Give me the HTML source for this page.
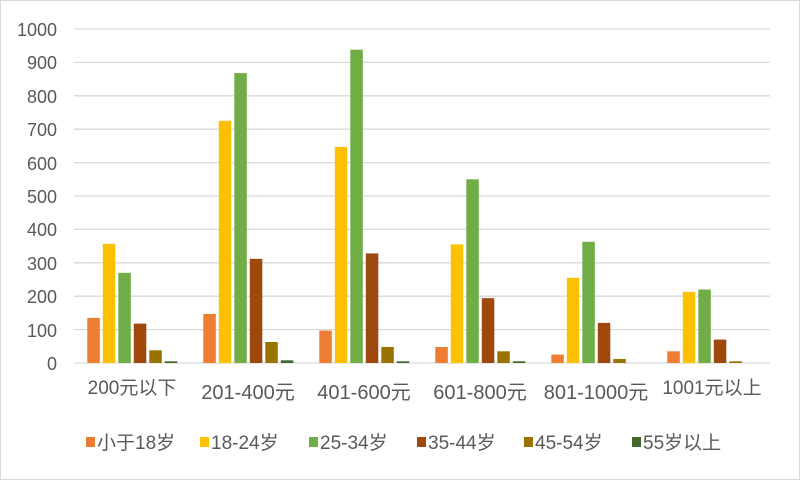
<!DOCTYPE html>
<html><head><meta charset="utf-8"><style>
html,body{margin:0;padding:0;background:#fff}
svg{display:block}
text{font-family:"Liberation Sans","Noto Sans CJK SC",sans-serif;fill:#595959}
</style></head><body>
<svg width="800" height="480" viewBox="0 0 800 480" xmlns="http://www.w3.org/2000/svg">
<rect x="0.5" y="0.5" width="799" height="479" fill="#fff" stroke="#d9d9d9"/>
<g stroke="#d9d9d9" stroke-width="1.3">
<line x1="74" x2="770" y1="29" y2="29"/><line x1="74" x2="770" y1="62.4" y2="62.4"/>
<line x1="74" x2="770" y1="95.8" y2="95.8"/><line x1="74" x2="770" y1="129.2" y2="129.2"/>
<line x1="74" x2="770" y1="162.6" y2="162.6"/><line x1="74" x2="770" y1="196" y2="196"/>
<line x1="74" x2="770" y1="229.4" y2="229.4"/><line x1="74" x2="770" y1="262.8" y2="262.8"/>
<line x1="74" x2="770" y1="296.2" y2="296.2"/><line x1="74" x2="770" y1="329.6" y2="329.6"/>
<line x1="74" x2="770" y1="363" y2="363"/>
</g>
<g font-size="18" text-anchor="end">
<text x="57" y="36">1000</text><text x="57" y="69">900</text><text x="57" y="103">800</text>
<text x="57" y="136">700</text><text x="57" y="170">600</text><text x="57" y="203">500</text>
<text x="57" y="236">400</text><text x="57" y="270">300</text><text x="57" y="303">200</text>
<text x="57" y="337">100</text><text x="57" y="370">0</text>
</g>
<g>
<rect x="87.3" y="317.9" width="12.5" height="45.1" fill="#ED7D31"/>
<rect x="102.8" y="243.8" width="12.5" height="119.2" fill="#FFC000"/>
<rect x="118.3" y="272.8" width="12.5" height="90.2" fill="#70AD47"/>
<rect x="133.8" y="323.6" width="12.5" height="39.4" fill="#9E480E"/>
<rect x="149.3" y="350.3" width="12.5" height="12.7" fill="#997300"/>
<rect x="164.8" y="361.3" width="12.5" height="1.7" fill="#43682B"/>

<rect x="203.3" y="313.9" width="12.5" height="49.1" fill="#ED7D31"/>
<rect x="218.8" y="120.8" width="12.5" height="242.2" fill="#FFC000"/>
<rect x="234.3" y="73.1" width="12.5" height="289.9" fill="#70AD47"/>
<rect x="249.8" y="258.8" width="12.5" height="104.2" fill="#9E480E"/>
<rect x="265.3" y="342" width="12.5" height="21" fill="#997300"/>
<rect x="280.8" y="360.3" width="12.5" height="2.7" fill="#43682B"/>

<rect x="319.3" y="330.6" width="12.5" height="32.4" fill="#ED7D31"/>
<rect x="334.8" y="146.9" width="12.5" height="216.1" fill="#FFC000"/>
<rect x="350.3" y="49.7" width="12.5" height="313.3" fill="#70AD47"/>
<rect x="365.8" y="253.4" width="12.5" height="109.6" fill="#9E480E"/>
<rect x="381.3" y="347" width="12.5" height="16" fill="#997300"/>
<rect x="396.8" y="361.3" width="12.5" height="1.7" fill="#43682B"/>

<rect x="435.3" y="347" width="12.5" height="16" fill="#ED7D31"/>
<rect x="450.8" y="244.4" width="12.5" height="118.6" fill="#FFC000"/>
<rect x="466.3" y="179.3" width="12.5" height="183.7" fill="#70AD47"/>
<rect x="481.8" y="298.2" width="12.5" height="64.8" fill="#9E480E"/>
<rect x="497.3" y="351.3" width="12.5" height="11.7" fill="#997300"/>
<rect x="512.8" y="361.3" width="12.5" height="1.7" fill="#43682B"/>

<rect x="551.3" y="354.6" width="12.5" height="8.4" fill="#ED7D31"/>
<rect x="566.8" y="277.8" width="12.5" height="85.2" fill="#FFC000"/>
<rect x="582.3" y="241.8" width="12.5" height="121.2" fill="#70AD47"/>
<rect x="597.8" y="322.9" width="12.5" height="40.1" fill="#9E480E"/>
<rect x="613.3" y="359" width="12.5" height="4" fill="#997300"/>

<rect x="667.3" y="351.3" width="12.5" height="11.7" fill="#ED7D31"/>
<rect x="682.8" y="291.9" width="12.5" height="71.1" fill="#FFC000"/>
<rect x="698.3" y="289.5" width="12.5" height="73.5" fill="#70AD47"/>
<rect x="713.8" y="339.6" width="12.5" height="23.4" fill="#9E480E"/>
<rect x="729.3" y="361.3" width="12.5" height="1.7" fill="#997300"/>
</g>
<g text-anchor="middle">
<text x="132" y="394" font-size="19">200元以下</text>
<text x="248" y="399" font-size="20" fill="#404040">201-400元</text>
<text x="364" y="399" font-size="20" fill="#404040">401-600元</text>
<text x="480" y="399" font-size="20" fill="#404040">601-800元</text>
<text x="596" y="399" font-size="20" fill="#404040">801-1000元</text>
<text x="712" y="394" font-size="19">1001元以上</text>
</g>
<g font-size="19">
<rect x="86" y="437" width="9" height="10" fill="#ED7D31"/><text x="97" y="449">小于18岁</text>
<rect x="200" y="437" width="9" height="10" fill="#FFC000"/><text x="211" y="449">18-24岁</text>
<rect x="309" y="437" width="9" height="10" fill="#70AD47"/><text x="320" y="449">25-34岁</text>
<rect x="417" y="437" width="9" height="10" fill="#9E480E"/><text x="428" y="449">35-44岁</text>
<rect x="524" y="437" width="9" height="10" fill="#997300"/><text x="535" y="449">45-54岁</text>
<rect x="632" y="437" width="9" height="10" fill="#43682B"/><text x="643" y="449">55岁以上</text>
</g>
</svg>
</body></html>
